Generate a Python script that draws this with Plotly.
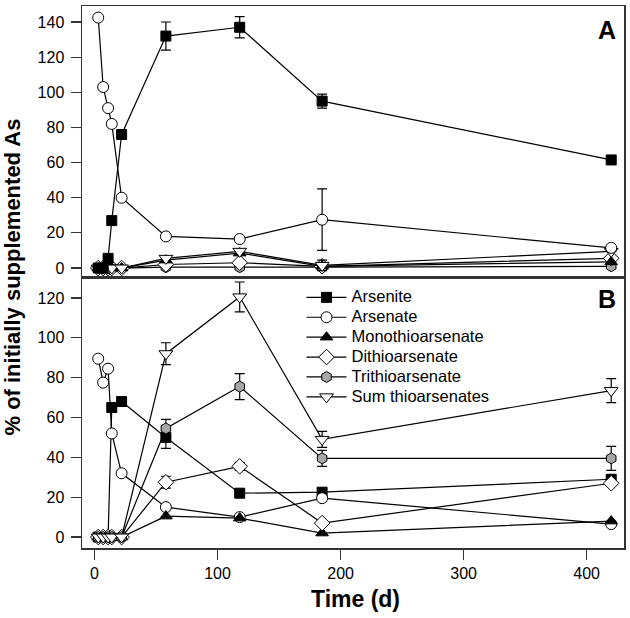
import plotly.graph_objects as go

# ---------------- data ----------------
time_d = [3, 7, 11, 14, 22, 58, 118, 185, 420]

# Panel A
arsenite_A = [0, 0, 5.5, 27, 76, 132, 137, 95, 61.5]
arsenite_A_err = [0, 0, 0, 0, 0, 8, 6, 4, 0]
arsenate_A = [142.5, 103, 91, 82, 40, 18, 16.5, 27.5, 11.5]
arsenate_A_err = [0, 0, 0, 0, 0, 0, 0, 17.5, 0]
mono_A = [0, 0, 0, 0, 0, 4.5, 8.5, 1, 3.5]
di_A = [0, 0, 0, 0, 0, 2, 3, 1, 5.5]
tri_A = [0, 0, 0, 0, 0, 0.5, 0.5, 0.5, 1]
sum_A = [0, 0, 0, 0, 0, 5.5, 9.5, 1.5, 9.5]
sum_A_err = [0, 0, 0, 0, 0, 1, 1.5, 3, 0]

# Panel B
arsenite_B = [0, 0, 0, 65, 68, 50, 22, 22.5, 29]
arsenite_B_err = [0, 0, 0, 0, 0, 5.5, 0, 0, 0]
arsenate_B = [89.5, 77.5, 84.5, 52, 32, 15, 10, 19.5, 6.5]
mono_B = [0, 0, 0, 0, 0, 10.5, 9.5, 2, 8]
di_B = [0, 0, 0, 0, 0, 27.5, 35.5, 7, 27]
di_B_err = [0, 0, 0, 0, 0, 3, 2, 0, 0]
tri_B = [0, 0, 0, 0, 0, 54.5, 75.5, 39.5, 39.5]
tri_B_err = [0, 0, 0, 0, 0, 4.5, 6.5, 4, 6]
sum_B = [0, 0, 0, 0, 0, 92, 120.5, 49, 73.5]
sum_B_err = [0, 0, 0, 0, 0, 5.5, 7.5, 4, 6]

series_names = ["Arsenite", "Arsenate", "Monothioarsenate", "Dithioarsenate",
                "Trithioarsenate", "Sum thioarsenates"]
x_ticks = [0, 100, 200, 300, 400]
yA_ticks = [0, 20, 40, 60, 80, 100, 120, 140]
yB_ticks = [0, 20, 40, 60, 80, 100, 120]

# ---------------- styles ----------------
styles = {
    "Arsenite": dict(symbol="square", color="black", size=10),
    "Arsenate": dict(symbol="circle", color="white", size=11),
    "Monothioarsenate": dict(symbol="triangle-up", color="black", size=11),
    "Dithioarsenate": dict(symbol="diamond", color="white", size=12),
    "Trithioarsenate": dict(symbol="hexagon", color="#a6a6a6", size=11),
    "Sum thioarsenates": dict(symbol="triangle-down", color="white", size=12),
}

FONT = "Liberation Sans, Arial, sans-serif"
fig = go.Figure()


def add(name, y, err, xa, ya, legend):
    st = styles[name]
    kw = {}
    if err is not None:
        kw["error_y"] = dict(type="data", array=err, visible=True,
                             color="black", thickness=1.2, width=5)
    fig.add_trace(go.Scatter(
        x=time_d, y=y, mode="lines+markers",
        name=f'<span style="font-size:16.5px">{name}</span>',
        showlegend=legend,
        xaxis=xa, yaxis=ya,
        line=dict(color="black", width=1.2),
        marker=dict(symbol=st["symbol"], color=st["color"], size=st["size"],
                    line=dict(color="black", width=1)),
        cliponaxis=False,
        hoverinfo="skip",
        **kw,
    ))


# Panel B (bottom) - with legend
add("Arsenite", arsenite_B, arsenite_B_err, "x", "y", True)
add("Arsenate", arsenate_B, None, "x", "y", True)
add("Monothioarsenate", mono_B, None, "x", "y", True)
add("Dithioarsenate", di_B, di_B_err, "x", "y", True)
add("Trithioarsenate", tri_B, tri_B_err, "x", "y", True)
add("Sum thioarsenates", sum_B, sum_B_err, "x", "y", True)

# Panel A (top)
add("Trithioarsenate", tri_A, None, "x2", "y2", False)
add("Dithioarsenate", di_A, None, "x2", "y2", False)
add("Monothioarsenate", mono_A, None, "x2", "y2", False)
add("Sum thioarsenates", sum_A, sum_A_err, "x2", "y2", False)
add("Arsenate", arsenate_A, arsenate_A_err, "x2", "y2", False)
add("Arsenite", arsenite_A, arsenite_A_err, "x2", "y2", False)

axis_line = dict(showline=True, linecolor="#333", linewidth=1.5, mirror=True,
                 showgrid=False, zeroline=False)
tickfont = dict(family=FONT, size=16, color="black")

fig.update_layout(
    width=630, height=618,
    margin=dict(l=82, r=5, t=4, b=70),
    paper_bgcolor="white", plot_bgcolor="white",
    font=dict(family=FONT, color="black"),
    xaxis=dict(domain=[0, 1], anchor="y", range=[-10.2, 430.4],
               tickvals=x_ticks, ticks="outside", ticklen=10, tickwidth=1.2,
               tickcolor="#333", tickfont=tickfont, **axis_line),
    yaxis=dict(domain=[0, 0.5], anchor="x", range=[-5.5, 130.5],
               tickvals=yB_ticks, ticks="outside", ticklen=10, tickwidth=1.2,
               tickcolor="#333", tickfont=tickfont, ticklabelstandoff=3,
               **axis_line),
    xaxis2=dict(domain=[0, 1], anchor="y2", matches="x", range=[-10.2, 430.4],
                showticklabels=False, ticks="", **axis_line),
    yaxis2=dict(domain=[0.5, 1], anchor="x2", range=[-5.1, 149.1],
                tickvals=yA_ticks, ticks="outside", ticklen=10, tickwidth=1.2,
                tickcolor="#333", tickfont=tickfont, ticklabelstandoff=3,
                **axis_line),
    legend=dict(x=0.405, y=0.490, xanchor="left", yanchor="top",
                itemwidth=40, tracegroupgap=0,
                font=dict(family=FONT, size=13, color="black"),
                bgcolor="rgba(0,0,0,0)", borderwidth=0),
    annotations=[
        dict(text="<b>A</b>", x=0.969, y=0.956, xref="paper", yref="paper",
             xanchor="center", yanchor="middle", showarrow=False,
             font=dict(family=FONT, size=25, color="black")),
        dict(text="<b>B</b>", x=0.969, y=0.46, xref="paper", yref="paper",
             xanchor="center", yanchor="middle", showarrow=False,
             font=dict(family=FONT, size=25, color="black")),
        dict(text="<b>% of initially supplemented As</b>", x=-0.13, y=0.5,
             xref="paper", yref="paper", textangle=-90, showarrow=False,
             xanchor="center", yanchor="middle",
             font=dict(family=FONT, size=22, color="black")),
        dict(text="<b>Time (d)</b>", x=0.504, y=-0.095, xref="paper",
             yref="paper", xanchor="center", yanchor="middle", showarrow=False,
             font=dict(family=FONT, size=23, color="black")),
    ],
)

fig.write_html("out.html",
               config={"displayModeBar": False, "staticPlot": True},
               post_script="document.body.style.margin='0';"
                           "document.body.style.overflow='hidden';")
